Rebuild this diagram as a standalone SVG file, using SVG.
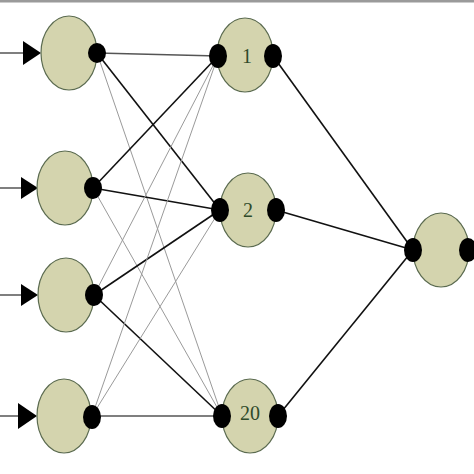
<svg xmlns="http://www.w3.org/2000/svg" width="474" height="474" viewBox="0 0 474 474">
<style>
.body{fill:#d4d4ae;stroke:#5b6b50;stroke-width:1.2}
.dot{fill:#000}
.lab{font-family:"Liberation Serif",serif;font-size:20px;fill:#2f4a2a;text-anchor:middle;dominant-baseline:central}
.k{stroke:#111;stroke-width:1.6;fill:none}
.g{stroke:#9a9a9a;stroke-width:1;fill:none}
.in{stroke:#555;stroke-width:1.5;fill:none}
.arr{fill:#000}
</style>
<rect x="0" y="0" width="474" height="2.5" fill="#9a9a9a"/>
<g id="connectors">
<line class="in" x1="0" y1="53" x2="24" y2="53"/>
<line class="in" x1="0" y1="188" x2="22" y2="188"/>
<line class="in" x1="0" y1="295" x2="22" y2="295"/>
<line class="in" x1="0" y1="416" x2="19" y2="416"/>
<polygon class="arr" points="23,41 41,53 23,65"/>
<polygon class="arr" points="21,177 38,188 21,199"/>
<polygon class="arr" points="21,284 38,295 21,306"/>
<polygon class="arr" points="18,403 37,416 18,429"/>
<line class="in" x1="97" y1="53" x2="218" y2="56"/>
<line class="k" x1="97" y1="53" x2="220" y2="210"/>
<line class="g" x1="97" y1="53" x2="222" y2="416"/>
<line class="k" x1="93" y1="188" x2="218" y2="56"/>
<line class="k" x1="93" y1="188" x2="220" y2="210"/>
<line class="g" x1="93" y1="188" x2="222" y2="416"/>
<line class="g" x1="94" y1="295" x2="218" y2="56"/>
<line class="k" x1="94" y1="295" x2="220" y2="210"/>
<line class="k" x1="94" y1="295" x2="222" y2="416"/>
<line class="g" x1="92" y1="416" x2="218" y2="56"/>
<line class="g" x1="92" y1="416" x2="220" y2="210"/>
<line class="in" x1="92" y1="416" x2="222" y2="416"/>
<line class="k" x1="273" y1="56" x2="413" y2="250"/>
<line class="k" x1="276" y1="210" x2="413" y2="250"/>
<line class="k" x1="278" y1="416" x2="413" y2="250"/>
</g>
<g id="input1"><ellipse class="body" cx="69" cy="53" rx="28" ry="37"/><ellipse class="dot" cx="97" cy="53" rx="9" ry="10"/></g>
<g id="input2"><ellipse class="body" cx="65" cy="188" rx="28" ry="37"/><ellipse class="dot" cx="93" cy="188" rx="9" ry="11"/></g>
<g id="input3"><ellipse class="body" cx="66" cy="295" rx="28" ry="37"/><ellipse class="dot" cx="94" cy="295" rx="9" ry="11"/></g>
<g id="input4"><ellipse class="body" cx="64" cy="416" rx="27" ry="37"/><ellipse class="dot" cx="92" cy="417" rx="9" ry="12"/></g>
<g id="hidden1"><ellipse class="body" cx="245" cy="55" rx="28" ry="37"/><ellipse class="dot" cx="218" cy="56" rx="9" ry="12"/><ellipse class="dot" cx="273" cy="56" rx="9" ry="12"/><text class="lab" x="247" y="56">1</text></g>
<g id="hidden2"><ellipse class="body" cx="248" cy="210" rx="28" ry="37"/><ellipse class="dot" cx="220" cy="210" rx="9" ry="12"/><ellipse class="dot" cx="276" cy="210" rx="9" ry="12"/><text class="lab" x="248" y="210">2</text></g>
<g id="hidden20"><ellipse class="body" cx="250" cy="416" rx="28" ry="37"/><ellipse class="dot" cx="222" cy="416" rx="9" ry="12"/><ellipse class="dot" cx="278" cy="416" rx="9" ry="12"/><text class="lab" x="250" y="413">20</text></g>
<g id="output"><ellipse class="body" cx="441" cy="250" rx="28" ry="37"/><ellipse class="dot" cx="413" cy="250" rx="9" ry="12"/><ellipse class="dot" cx="468" cy="250" rx="9" ry="12"/></g>
</svg>
